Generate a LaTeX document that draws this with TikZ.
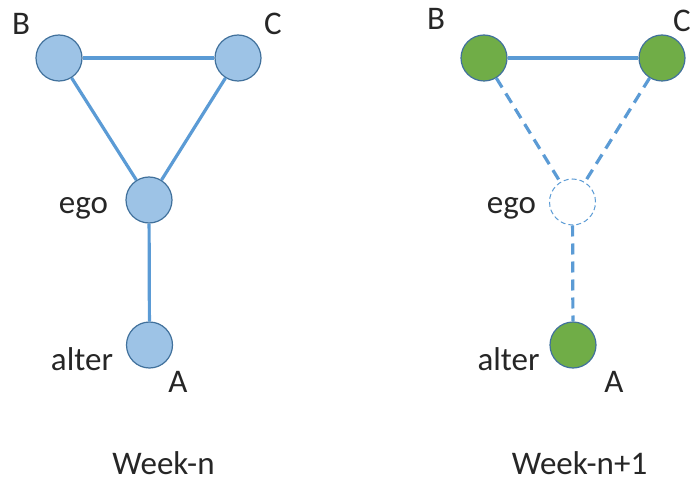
\documentclass[tikz,border=0pt]{standalone}
\usepackage{fontspec}
\setmainfont{Carlito}
\usetikzlibrary{positioning}
\definecolor{edgeblue}{HTML}{5B9BD5}
\definecolor{rimblue}{HTML}{41719C}
\definecolor{nodeblue}{HTML}{9DC3E6}
\definecolor{nodegreen}{HTML}{70AD47}
\definecolor{txt}{HTML}{262626}
\tikzset{
    person/.style={circle, draw=rimblue, line width=1.2pt, minimum size=46pt, inner sep=0pt},
    tie/.style={draw=edgeblue, line width=3.2pt},
    lost/.style={tie, dash pattern=on 11pt off 7pt},
    lbl/.style={anchor=base, text=txt, font=\fontsize{33}{39}\selectfont, inner sep=0pt}
}

\begin{document}
\begin{tikzpicture}[x=1pt, y=-1pt]
    \useasboundingbox (0,0) rectangle (693,481);

    % week n
    \node[person, fill=nodeblue](b1) at (59,58){};
    \node[person, fill=nodeblue](c1) at (238,58){};
    \node[person, fill=nodeblue](e1) at (149,200){};
    \node[person, fill=nodeblue](a1) at (149.5,345){};
    \draw[tie](b1)--(c1);
    \draw[tie](b1)--(e1);
    \draw[tie](c1)--(e1);
    \draw[tie](e1)--(a1);
    \node[lbl](lb1) at (21,35){B};
    \node[lbl](lc1) at (273,35){C};
    \node[lbl](le1) at (83.5,213){ego};
    \node[lbl](la1) at (82,370){alter};
    \node[lbl](lA1) at (178,392){A};
    \node[lbl](w1) at (163.5,474){Week-n};

    % week n+1
    \node[person, fill=nodegreen](b2) at (484,58){};
    \node[person, fill=nodegreen](c2) at (662,58){};
    \node[person, fill=white, draw=edgeblue, line width=1pt, dash pattern=on 5pt off 3pt](e2) at (572.5,202){};
    \node[person, fill=nodegreen](a2) at (573,345){};
    \draw[tie](b2)--(c2);
    \draw[lost](b2)--(e2);
    \draw[lost](c2)--(e2);
    \draw[lost](e2)--(a2);
    \node[lbl](lb2) at (436,30){B};
    \node[lbl](lc2) at (682,32){C};
    \node[lbl](le2) at (511.5,213){ego};
    \node[lbl](la2) at (508.5,370){alter};
    \node[lbl](lA2) at (614,392){A};
    \node[lbl](w2) at (579.5,474){Week-n+1};
\end{tikzpicture}
\end{document}
